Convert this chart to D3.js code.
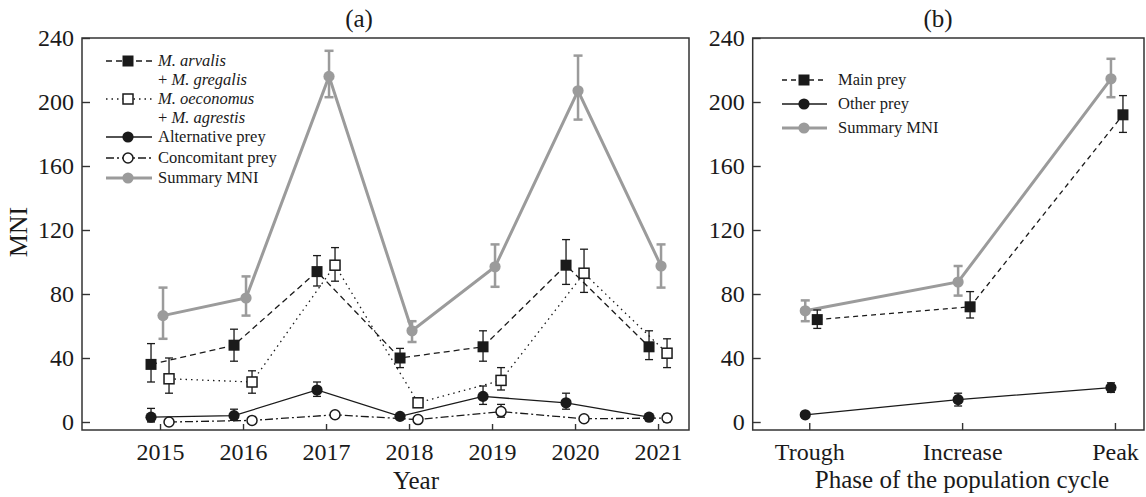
<!DOCTYPE html>
<html>
<head>
<meta charset="utf-8">
<script src="https://cdn.jsdelivr.net/npm/d3@7"></script>
<style>
    body { margin: 0; background: #fff; }
    svg text { font-family: "Liberation Serif", "Times New Roman", serif; fill: #1a1a1a; }
</style>
</head>
<body>
<div id="chart"></div>
<script>
// panel (a) data
var years = [2015, 2016, 2017, 2018, 2019, 2020, 2021];

var arvalisMean = [36, 48, 94, 40, 47, 98, 47];
var arvalisLo   = [25, 38, 85, 34, 38, 86, 39];
var arvalisHi   = [49, 58, 104, 46, 57, 114, 57];

var oeconomusMean = [27, 25, 98, 12, 26, 93, 43];
var oeconomusLo   = [18, 18, 88, 12, 20, 81, 34];
var oeconomusHi   = [40, 32, 109, 12, 34, 108, 52];

var alternativeMean = [3, 4, 20, 3.5, 16, 12, 3];
var alternativeLo   = [0, 1, 16, 2, 11, 8, 1];
var alternativeHi   = [8.5, 8, 25, 5, 22.5, 18, 5];

var concomitantMean = [0, 1, 4.5, 1.5, 6.5, 2, 2.5];
var concomitantLo   = [0, 0, 3, 0, 3, 0.5, 0];
var concomitantHi   = [1, 2, 6, 3, 11, 3.5, 5];

var summaryMean = [66.5, 77.5, 216, 57, 97, 207, 97.5];
var summaryLo   = [52, 66.5, 203, 50, 84.5, 189, 84];
var summaryHi   = [84, 91, 232, 63, 111, 229, 111];

// panel (b) data
var phases = ["Trough", "Increase", "Peak"];

var mainMean = [64, 72, 192];
var mainLo   = [58.5, 65, 181];
var mainHi   = [70, 81.5, 204];

var otherMean = [4.5, 14, 21.5];
var otherLo   = [3, 10, 18.5];
var otherHi   = [6, 18, 24.5];

var summaryBMean = [69.5, 87.5, 214.5];
var summaryBLo   = [63, 79, 203];
var summaryBHi   = [76, 97.5, 227];

var yTicks = [0, 40, 80, 120, 160, 200, 240];

var GRAY = "#9b9b9b";
var INK = "#1a1a1a";

// series styles
var styles = {
    main:   { marker: "square", fill: INK, stroke: INK, dash: "6,4", width: 1.3, color: INK, cap: 8 },
    open:   { marker: "square", fill: "#fff", stroke: INK, dash: "1.5,4", width: 1.3, color: INK, cap: 8 },
    alt:    { marker: "circle", fill: INK, stroke: INK, dash: null, width: 1.3, color: INK, cap: 8 },
    conc:   { marker: "ocircle", fill: "#fff", stroke: INK, dash: "8,3,2,3", width: 1.3, color: INK, cap: 8 },
    sum:    { marker: "circle", fill: GRAY, stroke: GRAY, dash: null, width: 3, color: GRAY, cap: 9 }
};

var svg = d3.select("#chart")
    .append("svg")
    .attr("width", 1146)
    .attr("height", 497);

function drawMarker(g, cx, cy, st) {
    if (st.marker == "square") {
        var s = st.fill == "#fff" ? 10 : 11;
        g.append("rect")
            .attr("x", cx - s / 2).attr("y", cy - s / 2)
            .attr("width", s).attr("height", s)
            .attr("fill", st.fill)
            .attr("stroke", st.stroke)
            .attr("stroke-width", st.fill == "#fff" ? 1.5 : 0);
    } else if (st.marker == "ocircle") {
        g.append("circle")
            .attr("cx", cx).attr("cy", cy).attr("r", 5)
            .attr("fill", "#fff").attr("stroke", INK).attr("stroke-width", 1.5);
    } else {
        g.append("circle")
            .attr("cx", cx).attr("cy", cy).attr("r", 5.6)
            .attr("fill", st.fill);
    }
}

function drawSeries(g, x, y, keys, mean, lo, hi, st, dx) {
    var pts = keys.map(function (k, i) {
        return { x: x(k) + dx, v: mean[i], lo: lo[i], hi: hi[i] };
    });

    var line = d3.line()
        .x(function (d) { return d.x; })
        .y(function (d) { return y(d.v); });

    g.append("path")
        .datum(pts)
        .attr("d", line)
        .attr("fill", "none")
        .attr("stroke", st.color)
        .attr("stroke-width", st.width)
        .attr("stroke-dasharray", st.dash);

    var ew = st.color == GRAY ? 2.5 : 1.3;
    pts.forEach(function (d) {
        if (d.hi == d.lo) return;
        g.append("line")
            .attr("x1", d.x).attr("x2", d.x)
            .attr("y1", y(d.lo)).attr("y2", y(d.hi))
            .attr("stroke", st.color).attr("stroke-width", ew);
        [d.lo, d.hi].forEach(function (v) {
            g.append("line")
                .attr("x1", d.x - st.cap / 2).attr("x2", d.x + st.cap / 2)
                .attr("y1", y(v)).attr("y2", y(v))
                .attr("stroke", st.color).attr("stroke-width", ew);
        });
    });

    pts.forEach(function (d) { drawMarker(g, d.x, y(d.v), st); });
}

function legendRow(g, x1, x2, xm, yy, st) {
    g.append("line")
        .attr("x1", x1).attr("x2", x2)
        .attr("y1", yy).attr("y2", yy)
        .attr("stroke", st.color)
        .attr("stroke-width", st.width)
        .attr("stroke-dasharray", st.dash);
    drawMarker(g, xm, yy, st);
}

function legendText(g, x, yy, parts) {
    var t = g.append("text").attr("x", x).attr("y", yy).attr("font-size", 16.5);
    parts.forEach(function (p) {
        t.append("tspan").attr("font-style", p[1] ? "italic" : "normal").text(p[0]);
    });
}

function frame(x0, y0, x1, y1) {
    svg.append("rect")
        .attr("x", x0).attr("y", y0)
        .attr("width", x1 - x0).attr("height", y1 - y0)
        .attr("fill", "none")
        .attr("stroke", "#333")
        .attr("stroke-width", 1.5);
}

function styleAxis(g) {
    g.attr("font-family", "Liberation Serif, serif");
    g.select(".domain").remove();
    g.selectAll(".tick line").attr("stroke", "#333").attr("stroke-width", 1.4);
    g.selectAll(".tick text").attr("font-size", 24).attr("fill", INK);
}

// ---------- panel (a) ----------
var yA = d3.scaleLinear().domain([-5, 240]).range([430, 38]);
var xA = d3.scaleLinear().domain([2014.06, 2021.373]).range([82, 689]);

svg.append("g")
    .attr("transform", "translate(82,0)")
    .call(d3.axisLeft(yA).tickValues(yTicks).tickSize(-8).tickPadding(8))
    .call(styleAxis);

svg.append("g")
    .attr("transform", "translate(0,430)")
    .call(d3.axisBottom(xA).tickValues(years).tickFormat(d3.format("d")).tickSize(-6).tickPadding(13))
    .call(styleAxis);

frame(82, 38, 689, 430);

var gA = svg.append("g");
drawSeries(gA, xA, yA, years, summaryMean, summaryLo, summaryHi, styles.sum, 3);
drawSeries(gA, xA, yA, years, concomitantMean, concomitantLo, concomitantHi, styles.conc, 9);
drawSeries(gA, xA, yA, years, alternativeMean, alternativeLo, alternativeHi, styles.alt, -9);
drawSeries(gA, xA, yA, years, oeconomusMean, oeconomusLo, oeconomusHi, styles.open, 9);
drawSeries(gA, xA, yA, years, arvalisMean, arvalisLo, arvalisHi, styles.main, -9);

// legend (a)
var lgA = svg.append("g");
legendRow(lgA, 106, 152, 128, 61, styles.main);
legendRow(lgA, 106, 152, 128, 99, styles.open);
legendRow(lgA, 106, 152, 128, 137, styles.alt);
legendRow(lgA, 106, 152, 128, 158, styles.conc);
legendRow(lgA, 106, 152, 128, 178, styles.sum);

legendText(lgA, 158, 66, [["M. arvalis", true]]);
legendText(lgA, 158, 85, [["+ ", false], ["M. gregalis", true]]);
legendText(lgA, 158, 104, [["M. oeconomus", true]]);
legendText(lgA, 158, 123, [["+ ", false], ["M. agrestis", true]]);
legendText(lgA, 158, 142, [["Alternative prey", false]]);
legendText(lgA, 158, 163, [["Concomitant prey", false]]);
legendText(lgA, 158, 183, [["Summary MNI", false]]);

// titles (a)
svg.append("text").attr("x", 359).attr("y", 27).attr("text-anchor", "middle")
    .attr("font-size", 25).text("(a)");
svg.append("text").attr("x", 416).attr("y", 489).attr("text-anchor", "middle")
    .attr("font-size", 25).text("Year");
svg.append("text").attr("transform", "translate(27,232) rotate(-90)")
    .attr("text-anchor", "middle").attr("font-size", 26).text("MNI");

// ---------- panel (b) ----------
var yB = d3.scaleLinear().domain([-5, 240]).range([430, 38]);
var xB = d3.scaleLinear().domain([-0.37, 2.19]).range([752.7, 1144]);
var idx = phases.map(function (d, i) { return i; });

svg.append("g")
    .attr("transform", "translate(752.7,0)")
    .call(d3.axisLeft(yB).tickValues(yTicks).tickSize(-8).tickPadding(8))
    .call(styleAxis);

svg.append("g")
    .attr("transform", "translate(0,430)")
    .call(d3.axisBottom(xB).tickValues(idx).tickFormat(function (i) { return phases[i]; }).tickSize(-7).tickPadding(13))
    .call(styleAxis);

frame(752.7, 38, 1144, 430);

var mainStyle = Object.assign({}, styles.main, { dash: "5,4" });

var gB = svg.append("g");
drawSeries(gB, xB, yB, idx, summaryBMean, summaryBLo, summaryBHi, styles.sum, -4);
drawSeries(gB, xB, yB, idx, otherMean, otherLo, otherHi, styles.alt, -4);
drawSeries(gB, xB, yB, idx, mainMean, mainLo, mainHi, mainStyle, 8);

// legend (b)
var lgB = svg.append("g");
legendRow(lgB, 782, 827, 804, 80, mainStyle);
legendRow(lgB, 782, 827, 804, 104, styles.alt);
legendRow(lgB, 782, 827, 804, 128, styles.sum);
legendText(lgB, 838, 85, [["Main prey", false]]);
legendText(lgB, 838, 109, [["Other prey", false]]);
legendText(lgB, 838, 133, [["Summary MNI", false]]);

// titles (b)
svg.append("text").attr("x", 938).attr("y", 27).attr("text-anchor", "middle")
    .attr("font-size", 25).text("(b)");
svg.append("text").attr("x", 962).attr("y", 488).attr("text-anchor", "middle")
    .attr("font-size", 25).text("Phase of the population cycle");
</script>
</body>
</html>
